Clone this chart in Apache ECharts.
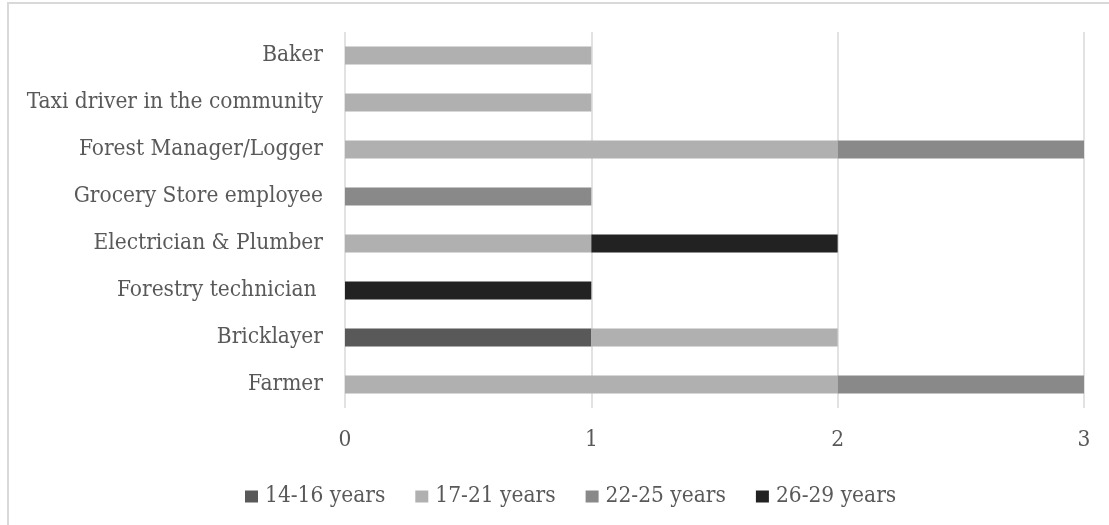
<!DOCTYPE html>
<html>
<head>
<meta charset="utf-8">
<script src="https://cdn.jsdelivr.net/npm/echarts@6/dist/echarts.min.js"></script>
<style>
  html, body { margin: 0; padding: 0; background: #fff; }
  #frame { position: absolute; left: 7px; top: 2px; width: 1110px; height: 530px; border: 2px solid #d9d9d9; box-sizing: border-box; }
  #chart { position: absolute; left: 0; top: 0; width: 1109px; height: 525px; }
</style>
</head>
<body>
<div id="frame"></div>
<div id="chart"></div>
<script>
// Occupations, listed bottom to top
const categories = [
  'Farmer',
  'Bricklayer',
  'Forestry technician ',
  'Electrician & Plumber',
  'Grocery Store employee',
  'Forest Manager/Logger',
  'Taxi driver in the community',
  'Baker'
];
const ageGroups = ['14-16 years', '17-21 years', '22-25 years', '26-29 years'];
const age14to16 = [0, 1, 0, 0, 0, 0, 0, 0];
const age17to21 = [2, 1, 0, 1, 0, 2, 1, 1];
const age22to25 = [1, 0, 0, 0, 1, 1, 0, 0];
const age26to29 = [0, 0, 1, 1, 0, 0, 0, 0];
const xTicks = [0, 1, 2, 3];

const colors = ['#595959', '#b0b0b0', '#898989', '#222222'];
const values = [age14to16, age17to21, age22to25, age26to29];
const font = '"DejaVu Serif Condensed", "DejaVu Serif", serif';
const fontSize = 22.5;

const chart = echarts.init(document.getElementById('chart'), null, { renderer: 'canvas' });
chart.setOption({
  animation: false,
  textStyle: { fontFamily: font },
  grid: { left: 345, right: 25, top: 32, bottom: 117, containLabel: false },
  legend: {
    data: ageGroups,
    top: 480,
    left: 240,
    itemWidth: 13,
    itemHeight: 12,
    itemGap: 30,
    icon: 'rect',
    textStyle: { fontFamily: font, fontSize: fontSize, color: '#595959', padding: [0, 0, 0, 2] }
  },
  xAxis: {
    type: 'value',
    min: xTicks[0],
    max: xTicks[xTicks.length - 1],
    interval: 1,
    axisLine: { show: false },
    axisTick: { show: false },
    splitLine: { lineStyle: { color: '#d9d9d9', width: 1.5 } },
    axisLabel: { fontFamily: font, fontSize: fontSize, color: '#595959', margin: 21 }
  },
  yAxis: {
    type: 'category',
    data: categories,
    axisLine: { show: false },
    axisTick: { show: false },
    axisLabel: { fontFamily: font, fontSize: fontSize, color: '#595959', margin: 22 }
  },
  series: ageGroups.map((name, i) => ({
    name,
    type: 'bar',
    stack: 'total',
    barWidth: 18,
    itemStyle: { color: colors[i] },
    data: values[i].map(v => (v === 0 ? null : v))
  }))
});
</script>
</body>
</html>
